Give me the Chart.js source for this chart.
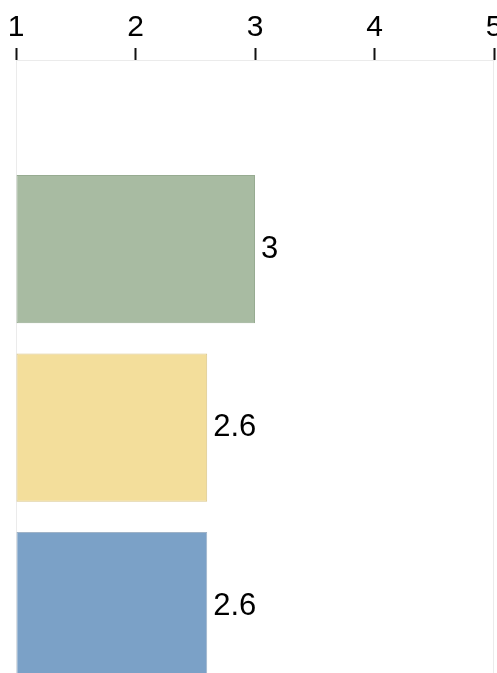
<!DOCTYPE html>
<html>
<head>
<meta charset="utf-8">
<script src="https://cdn.jsdelivr.net/npm/chart.js@4"></script>
<style>
  html, body { margin: 0; padding: 0; background: #fff; overflow: hidden; }
  #wrap { width: 497px; height: 673px; }
</style>
</head>
<body>
<div id="wrap"><canvas id="chartCanvas"></canvas></div>
<script>
// rows from top to bottom, value of each bar
const rows = [0, 1, 2];
const values = [3, 2.6, 2.6];
const xTicks = [1, 2, 3, 4, 5];
const barColors = ["#a8bba2", "#f3de9b", "#7ba1c7"];
const barBorders = ["#97ab91", "#dac68a", "#9fb3c8"];

const FONT = "'Liberation Sans', Arial, sans-serif";

// light frame round the plot area
const frame = {
    id: "frame",
    beforeDatasetsDraw(chart) {
        const a = chart.chartArea;
        const ctx = chart.ctx;
        ctx.save();
        ctx.strokeStyle = "#ebebeb";
        ctx.lineWidth = 1;
        ctx.strokeRect(a.left + 0.5, a.top + 0.5, a.right - a.left - 1, a.bottom - a.top + 5);
        ctx.restore();
    }
};

// value written just right of each bar
const valueLabels = {
    id: "valueLabels",
    afterDatasetsDraw(chart) {
        const ctx = chart.ctx;
        const meta = chart.getDatasetMeta(0);
        ctx.save();
        ctx.font = "31px " + FONT;
        ctx.fillStyle = "#000";
        ctx.textAlign = "left";
        ctx.textBaseline = "middle";
        meta.data.forEach((bar, i) => {
            ctx.fillText(String(values[i]), bar.x + 6, bar.y);
        });
        ctx.restore();
    }
};

document.addEventListener("DOMContentLoaded", function () {
    const ctx = document.getElementById("chartCanvas").getContext("2d");

    new Chart(ctx, {
        type: "bar",
        data: {
            datasets: [{
                data: rows.map((r, i) => ({ x: values[i], y: r })),
                backgroundColor: barColors,
                borderColor: barBorders,
                borderWidth: 1,
                borderSkipped: false,
                base: 1,
                categoryPercentage: 1.0,
                barPercentage: 0.83
            }]
        },
        options: {
            indexAxis: "y",
            responsive: true,
            maintainAspectRatio: false,
            animation: false,
            layout: { padding: { left: 16, right: 3, top: 0, bottom: 0 } },
            plugins: {
                legend: { display: false },
                tooltip: { enabled: false }
            },
            scales: {
                x: {
                    type: "linear",
                    position: "top",
                    min: 1,
                    max: 5,
                    afterBuildTicks: axis => { axis.ticks = xTicks.map(v => ({ value: v })); },
                    afterFit: axis => {
                        axis.paddingLeft = 0;
                        axis.paddingRight = 0;
                        axis.height = 60;
                    },
                    grid: {
                        drawOnChartArea: false,
                        drawTicks: true,
                        tickLength: 12,
                        tickColor: "#111",
                        tickWidth: 2
                    },
                    border: { display: true, color: "#ebebeb", width: 1 },
                    ticks: {
                        padding: 2,
                        maxRotation: 0,
                        autoSkip: false,
                        color: "#000",
                        font: { family: FONT, size: 30 }
                    }
                },
                y: {
                    type: "linear",
                    reverse: true,
                    offset: false,
                    min: -1.06,
                    max: 2.375,
                    afterBuildTicks: axis => { axis.ticks = rows.map(v => ({ value: v })); },
                    display: false
                }
            }
        },
        plugins: [frame, valueLabels]
    });
});
</script>
</body>
</html>
